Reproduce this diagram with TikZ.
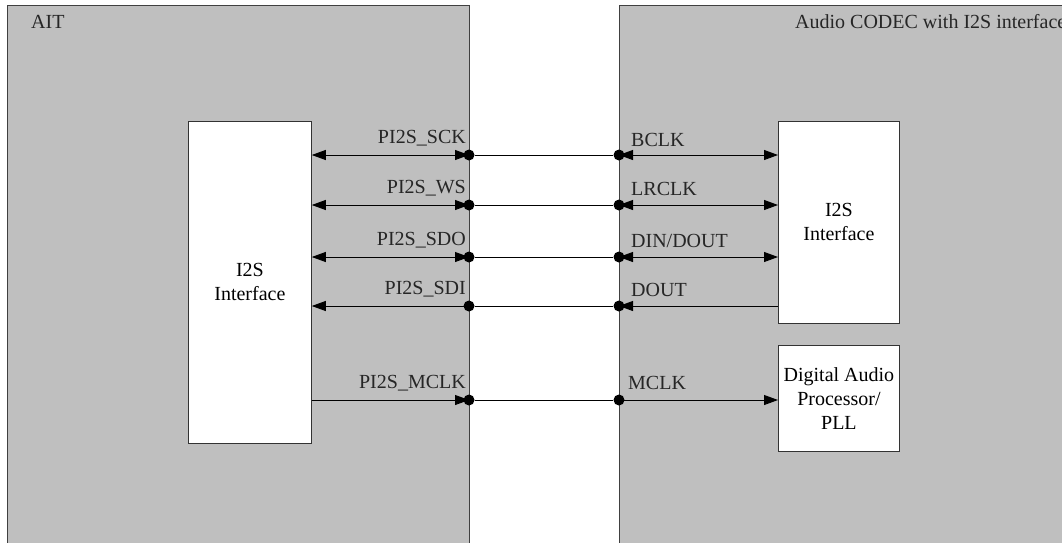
\documentclass[tikz,border=0pt]{standalone}
\usepackage{fontspec}
\setmainfont{Liberation Serif}
\usetikzlibrary{arrows.meta,positioning}

\tikzset{
  chip/.style={draw=black!75, line width=0.8pt, fill=gray!50, inner sep=0pt},
  block/.style={draw=black!80, line width=0.8pt, fill=white, align=center, inner sep=0pt},
  sig/.style={inner sep=0pt, text=black!85},
  dot/.style={circle, fill=black, inner sep=0pt, minimum size=11pt},
  wire/.style={line width=0.9pt},
}

\begin{document}
\begin{tikzpicture}[x=1pt, y=-1pt, font=\fontsize{20}{24}\selectfont,
    >={Triangle[length=14pt,width=10pt]}]
    \useasboundingbox (0,0) rectangle (1062,542);
    \clip (0,0) rectangle (1062,542);

    % === LEFT: AIT ===
    \node[chip, minimum width=462, minimum height=580, anchor=north west] (ait) at (7,5) {};
    \node[sig, anchor=base west] (aitname) at (31,28) {AIT};
    \node[block, minimum width=123, minimum height=322, anchor=north west] (i2sL) at (188,121) {I2S\\Interface};

    % === RIGHT: CODEC ===
    \node[chip, minimum width=520, minimum height=580, anchor=north west] (codec) at (619,5) {};
    \node[sig, anchor=base west] (codecname) at (795,28) {Audio CODEC with I2S interface};
    \node[block, minimum width=121, minimum height=202, anchor=north west] (i2sR) at (778,121) {I2S\\Interface};
    \node[block, minimum width=121, minimum height=106, anchor=north west] (dap) at (778,345) {Digital Audio\\Processor/\\PLL};

    % Pins on the box edges
    \node[dot] (sckL) at (469,155) {};
    \node[dot] (wsL) at (469,205) {};
    \node[dot] (sdoL) at (469,257) {};
    \node[dot] (sdiL) at (469,306) {};
    \node[dot] (mclkL) at (469,400) {};
    \node[dot] (sckR) at (619,155) {};
    \node[dot] (wsR) at (619,205) {};
    \node[dot] (sdoR) at (619,257) {};
    \node[dot] (sdiR) at (619,306) {};
    \node[dot] (mclkR) at (619,400) {};

    % Signal names
    \node[sig, anchor=base east] (tsckL) at (466,143) {PI2S\_SCK};
    \node[sig, anchor=base east] (twsL) at (466,193) {PI2S\_WS};
    \node[sig, anchor=base east] (tsdoL) at (466,245) {PI2S\_SDO};
    \node[sig, anchor=base east] (tsdiL) at (466,294) {PI2S\_SDI};
    \node[sig, anchor=base east] (tmclkL) at (466,388) {PI2S\_MCLK};
    \node[sig, anchor=base west] (tsckR) at (631,146) {BCLK};
    \node[sig, anchor=base west] (twsR) at (631,195) {LRCLK};
    \node[sig, anchor=base west] (tsdoR) at (631,247) {DIN/DOUT};
    \node[sig, anchor=base west] (tsdiR) at (631,296) {DOUT};
    \node[sig, anchor=base west] (tmclkR) at (628,389) {MCLK};

    % === Wires ===
    \draw[wire,<->] (i2sL.east |- sckL) -- (sckL.center);
    \draw[wire,<->] (i2sL.east |- wsL) -- (wsL.center);
    \draw[wire,<->] (i2sL.east |- sdoL) -- (sdoL.center);
    \draw[wire,<-] (i2sL.east |- sdiL) -- (sdiL.center);
    \draw[wire,->] (i2sL.east |- mclkL) -- (mclkL.center);

    \draw[wire] (sckL) -- (sckR);
    \draw[wire] (wsL) -- (wsR);
    \draw[wire] (sdoL) -- (sdoR);
    \draw[wire] (sdiL) -- (sdiR);
    \draw[wire] (mclkL) -- (mclkR);

    \draw[wire,<->] (sckR.center) -- (sckR -| i2sR.west);
    \draw[wire,<->] (wsR.center) -- (wsR -| i2sR.west);
    \draw[wire,<->] (sdoR.center) -- (sdoR -| i2sR.west);
    \draw[wire,<-] (sdiR.center) -- (sdiR -| i2sR.west);
    \draw[wire,->] (mclkR.center) -- (mclkR -| dap.west);
\end{tikzpicture}
\end{document}
